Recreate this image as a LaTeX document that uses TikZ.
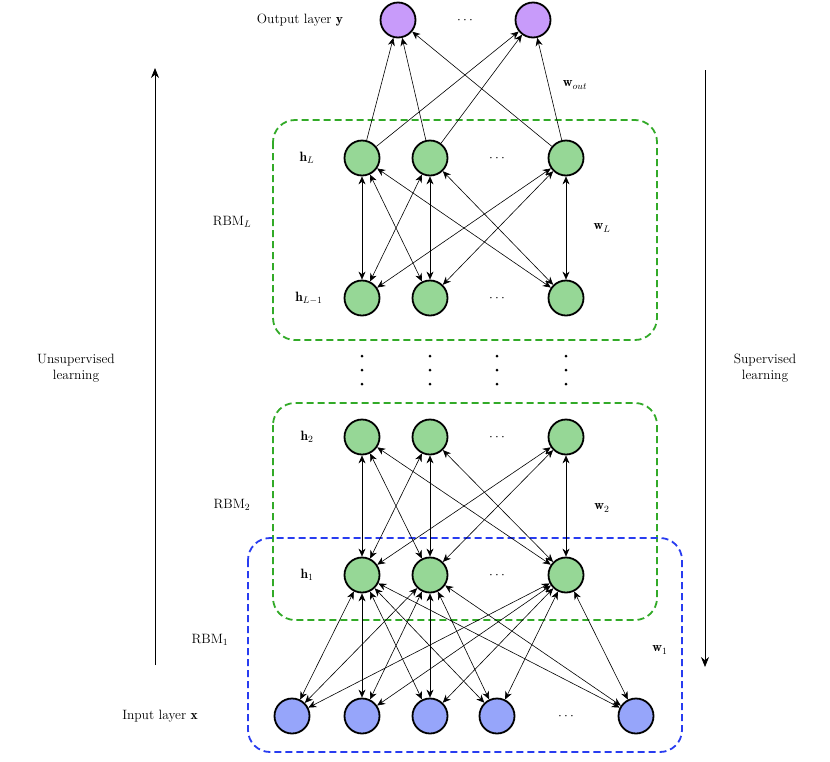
\RequirePackage{fix-cm}
\documentclass[tikz,border=0pt]{standalone}
\usepackage{fontspec}
\usetikzlibrary{arrows.meta}
\definecolor{ngreen}{RGB}{150,215,150}
\definecolor{npurple}{RGB}{200,155,250}
\definecolor{nblue}{RGB}{150,165,250}
\definecolor{dgreen}{RGB}{50,170,40}
\definecolor{dblue}{RGB}{40,60,240}
\begin{document}
\begin{tikzpicture}[x=1pt,y=-1pt,font=\fontsize{13.5}{16}\selectfont,
  neuron/.style={circle,draw,line width=1.8pt,minimum size=35pt,inner sep=0pt},
  gn/.style={neuron,fill=ngreen},pn/.style={neuron,fill=npurple},bn/.style={neuron,fill=nblue},
  conn/.style={-{Stealth[length=8pt,width=7pt]},line width=0.6pt},
  bconn/.style={{Stealth[length=8pt,width=7pt]}-{Stealth[length=8pt,width=7pt]},line width=0.6pt},
  gbox/.style={draw=dgreen,line width=1.8pt,dash pattern=on 7pt off 4pt,rounded corners=22pt},
  bbox/.style={draw=dblue,line width=1.8pt,dash pattern=on 7pt off 4pt,rounded corners=22pt},
  big/.style={-{Stealth[length=10pt,width=8pt]},line width=0.8pt}]
\useasboundingbox (0,0) rectangle (830,761);
\draw[gbox] (273,120) rectangle (657,340);
\draw[gbox] (273,403) rectangle (657,620);
\draw[bbox] (248,538) rectangle (682,752);
% output
\node[pn] (o1) at (398,20) {}; \node[pn] (o2) at (533,20) {};
\node at (465,20) {$\cdots$};
\foreach \n/\y in {a/158,b/298,c/437,d/575}{
  \node[gn] (\n1) at (362,\y) {}; \node[gn] (\n2) at (430,\y) {}; \node[gn] (\n3) at (566,\y) {};
  \node at (497,\y) {$\cdots$};}
\foreach \i/\x in {1/292,2/362,3/430,4/497,5/636}{\node[bn] (i\i) at (\x,716) {};}
\node at (566,716) {$\cdots$};
\foreach \x in {362,430,497,566}{\foreach \y in {356,370,384}{\fill (\x,\y) circle (1.5pt);}}
\foreach \a in {1,2,3}{\foreach \b in {1,2}{\draw[conn] (a\a) -- (o\b);}}
\foreach \a in {1,2,3}{\foreach \b in {1,2,3}{\draw[bconn] (a\a) -- (b\b); \draw[bconn] (c\a) -- (d\b);}}
\foreach \a in {1,2,3}{\foreach \b in {1,...,5}{\draw[bconn] (d\a) -- (i\b);}}
% labels
\node (lo) at (300,20) {Output layer $\mathbf{y}$};
\node (lwo) at (575,85) {$\mathbf{w}_{out}$};
\node (lhL) at (307,158) {$\mathbf{h}_L$};
\node (lhL1) at (309,298) {$\mathbf{h}_{L-1}$};
\node (lh2) at (307,437) {$\mathbf{h}_2$};
\node (lh1) at (307,575) {$\mathbf{h}_1$};
\node (lwL) at (602,228) {$\mathbf{w}_L$};
\node (lw2) at (602,508) {$\mathbf{w}_2$};
\node (lw1) at (660,650) {$\mathbf{w}_1$};
\node (rL) at (232,222) {RBM$_L$};
\node (r2) at (232,505) {RBM$_2$};
\node (r1) at (210,640) {RBM$_1$};
\node (lin) at (160,716) {Input layer $\mathbf{x}$};
\node[align=center] (us) at (76,368) {Unsupervised\\learning};
\node[align=center] (su) at (765,368) {Supervised\\learning};
\coordinate (u1) at (155,665); \coordinate (u2) at (155,68);
\coordinate (s1) at (705,70); \coordinate (s2) at (705,667);
\draw[big] (u1) -- (u2); \draw[big] (s1) -- (s2);
\end{tikzpicture}
\end{document}
